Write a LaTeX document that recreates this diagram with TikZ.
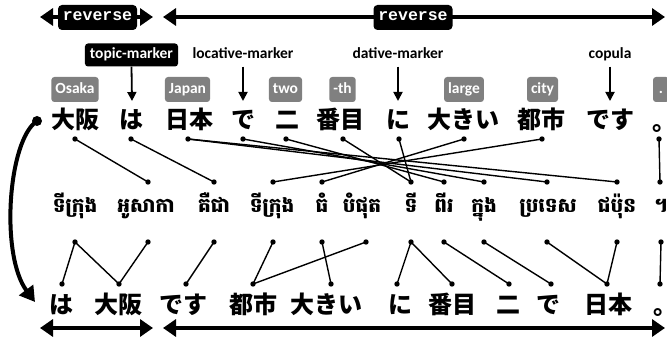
\documentclass[tikz,border=0pt]{standalone}
\usepackage{fontspec}
\usetikzlibrary{arrows.meta}
\setmainfont{Carlito}
\newfontfamily\jpfont{Noto Sans CJK JP}
\newfontfamily\jphalt{Noto Sans CJK JP}[RawFeature=+halt]
\newfontfamily\kmfont[Script=Khmer]{Battambang}
\newfontfamily\monofont{Liberation Mono}
\definecolor{boxgray}{RGB}{128,128,128}
\begin{document}
\begin{tikzpicture}[x=1pt,y=-1pt,
  jw/.style={font=\jpfont\bfseries\fontsize{24}{24}\selectfont, inner sep=0pt, anchor=base},
  jstop/.style={font=\jphalt\bfseries\fontsize{24}{24}\selectfont, inner sep=0pt, anchor=base},
  kw/.style={font=\kmfont\bfseries\fontsize{20}{20}\selectfont, inner sep=0pt, anchor=base},
  gbox/.style={fill=boxgray, text=white, rounded corners=3pt, font=\bfseries\fontsize{15.5}{15.5}\selectfont, inner xsep=4pt, inner ysep=0pt, minimum height=25pt, text height=11pt, text depth=3pt},
  rbox/.style={fill=black, text=white, rounded corners=4pt, font=\monofont\bfseries\fontsize{16.5}{16.5}\selectfont, minimum width=79pt, minimum height=25pt, text height=9pt, text depth=2pt, inner sep=0pt},
  lbl/.style={font=\bfseries\fontsize{15.5}{15.5}\selectfont, minimum height=23pt, text height=11pt, text depth=3pt, inner ysep=0pt, inner xsep=5pt},
  tbox/.style={lbl, fill=black, text=white, rounded corners=3pt},
  link/.style={line width=1.4pt},
  sarrow/.style={line width=1.8pt, -{Triangle[length=9pt,width=9pt]}},
  bigarrow/.style={line width=4pt, {Triangle[length=13pt,width=17pt]}-{Triangle[length=13pt,width=17pt]}},
  curvearrow/.style={line width=4pt, -{Triangle[length=15pt,width=17pt]}},
]
\useasboundingbox (0,0) rectangle (667,339);

% top reverse arrows
\coordinate (tl1) at (40,17); \coordinate (tl2) at (153,17);
\coordinate (tr1) at (163,17); \coordinate (tr2) at (665,17);
\draw[bigarrow] (tl1) -- (tl2);
\draw[bigarrow] (tr1) -- (tr2);
\node[rbox] (rev1) at (97.5,17.5) {reverse};
\node[rbox] (rev2) at (413,17.5) {reverse};

% bottom arrows
\coordinate (bl1) at (40,328); \coordinate (bl2) at (153,328);
\coordinate (br1) at (163,328); \coordinate (br2) at (665,328);
\draw[bigarrow] (bl1) -- (bl2);
\draw[bigarrow] (br1) -- (br2);

% grammatical labels
\node[tbox] (topic) at (131.5,55) {topic-marker};
\node[lbl] (loc) at (243,55) {locative-marker};
\node[lbl] (dat) at (398,55) {dative-marker};
\node[lbl] (cop) at (610,55) {copula};
\coordinate (tipTopic) at (132,101);
\coordinate (tipLoc) at (243,101);
\coordinate (tipDat) at (398,101);
\coordinate (tipCop) at (610,101);
\draw[sarrow] (topic.south) -- (tipTopic);
\draw[sarrow] (loc.south) -- (tipLoc);
\draw[sarrow] (dat.south) -- (tipDat);
\draw[sarrow] (cop.south) -- (tipCop);

% gloss boxes
\node[gbox] (gOsaka) at (75,89.5) {Osaka};
\node[gbox] (gJapan) at (187.5,89.5) {Japan};
\node[gbox] (gTwo) at (285.5,89.5) {two};
\node[gbox] (gTh) at (342.5,89.5) {-th};
\node[gbox] (gLarge) at (464,89.5) {large};
\node[gbox] (gCity) at (542.5,89.5) {city};
\node[gbox, minimum width=16pt] (gDot) at (661,89.5) {.};

% top Japanese row
\node[jw] (j1) at (75,129) {大阪};
\node[jw] (j2) at (131,129) {は};
\node[jw] (j3) at (189,129) {日本};
\node[jw] (j4) at (243,129) {で};
\node[jw] (j5) at (287,129) {二};
\node[jw] (j6) at (340,129) {番目};
\node[jw] (j7) at (398,129) {に};
\node[jw] (j8) at (463,129) {大きい};
\node[jw] (j9) at (541,129) {都市};
\node[jw] (j10) at (610,129) {です};
\node[jstop] (j11) at (658,131) {。};

% Khmer row
\node[kw] (k1) at (75,213) {ទីក្រុង};
\node[kw] (k2) at (146,213) {អូសាកា};
\node[kw] (k3) at (214,213) {គឺជា};
\node[kw] (k4) at (272,213) {ទីក្រុង};
\node[kw] (k5) at (322,213) {ធំ};
\node[kw] (k6) at (362,213) {បំផុត};
\node[kw] (k7) at (411,213) {ទី};
\node[kw] (k8) at (444,213) {ពីរ};
\node[kw] (k9) at (484,213) {ក្នុង};
\node[kw] (k10) at (548,213) {ប្រទេស};
\node[kw] (k11) at (617,213) {ជប៉ុន};
\node[kw] (k12) at (661,213) {។};

% bottom Japanese row
\node[jw] (m1) at (61,313) {は};
\node[jw] (m2) at (118,313) {大阪};
\node[jw] (m3) at (183,313) {です};
\node[jw] (m4) at (253,313) {都市};
\node[jw] (m5) at (326,313) {大きい};
\node[jw] (m6) at (400,313) {に};
\node[jw] (m7) at (452,313) {番目};
\node[jw] (m8) at (508,313) {二};
\node[jw] (m9) at (548,313) {で};
\node[jw] (m10) at (608,313) {日本};
\node[jstop] (m11) at (659,314) {。};

% alignment dots
\foreach \n/\x in {1/75,2/131,3/188,4/243,5/286,6/343,7/399,8/464,9/542,11/659}
  \coordinate (ja\n) at (\x,139);
\foreach \n/\x in {2/148,3/214,4/273,5/322,7/411,8/444,9/484,10/547,11/617,12/660}
  \coordinate (kt\n) at (\x,182);
\foreach \n/\x in {1/75,2/148,3/214,4/273,5/322,6/366,7/411,8/444,9/484,10/547,11/617,12/661}
  \coordinate (kb\n) at (\x,242);
\foreach \n/\x in {1/62,2/119,3/186,4/253,5/331,6/397,7/452,8/509,9/551,10/607,11/660}
  \coordinate (mb\n) at (\x,284);

% upper links
\draw[link] (ja1) -- (kt2);
\draw[link] (ja2) -- (kt3);
\draw[link] (ja3) -- (kt10);
\draw[link] (ja3) -- (kt11);
\draw[link] (ja4) -- (kt9);
\draw[link] (ja5) -- (kt8);
\draw[link] (ja6) -- (kt7);
\draw[link] (ja7) -- (kt7);
\draw[link] (ja8) -- (kt5);
\draw[link] (ja9) -- (kt4);
\draw[link] (ja11) -- (kt12);

% lower links
\draw[link] (kb1) -- (mb1);
\draw[link] (kb1) -- (mb2);
\draw[link] (kb2) -- (mb2);
\draw[link] (kb3) -- (mb3);
\draw[link] (kb4) -- (mb4);
\draw[link] (kb5) -- (mb5);
\draw[link] (kb6) -- (mb4);
\draw[link] (kb7) -- (mb6);
\draw[link] (kb7) -- (mb7);
\draw[link] (kb8) -- (mb8);
\draw[link] (kb9) -- (mb9);
\draw[link] (kb10) -- (mb10);
\draw[link] (kb11) -- (mb10);
\draw[link] (kb12) -- (mb11);

\foreach \c in {ja1,ja2,ja3,ja4,ja5,ja6,ja7,ja8,ja9,ja11,
  kt2,kt3,kt4,kt5,kt7,kt8,kt9,kt10,kt11,kt12,
  kb1,kb2,kb3,kb4,kb5,kb6,kb7,kb8,kb9,kb10,kb11,kb12,
  mb1,mb2,mb3,mb4,mb5,mb6,mb7,mb8,mb9,mb10,mb11}
  \fill (\c) circle (2.7);

% curved reorder arrow
\coordinate (cs) at (37,121);
\coordinate (ce) at (35,302);
\fill (cs) circle (5);
\draw[curvearrow] (cs) .. controls (8,140) and (0,255) .. (ce);
\end{tikzpicture}
\end{document}
